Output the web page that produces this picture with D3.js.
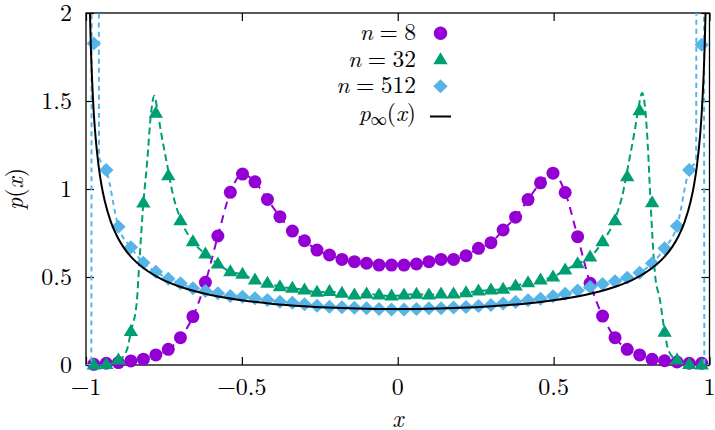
<!DOCTYPE html>
<html><head><meta charset="utf-8">
<script src="https://cdn.jsdelivr.net/npm/d3@7"></script>
<style>
html,body{margin:0;padding:0;background:#fff;}
</style></head><body>
<svg id="chart" width="715" height="430"></svg>
<script>
// ---------------- data ----------------
const xs = [-0.975,-0.935,-0.896,-0.856,-0.816,-0.776,-0.736,-0.697,-0.657,-0.617,-0.577,-0.537,-0.498,-0.458,-0.418,-0.378,-0.338,-0.299,-0.259,-0.219,-0.179,-0.139,-0.100,-0.060,-0.020,
             0.020,0.060,0.100,0.139,0.179,0.219,0.259,0.299,0.338,0.378,0.418,0.458,0.498,0.537,0.577,0.617,0.657,0.697,0.736,0.776,0.816,0.856,0.896,0.935,0.975];
const n8 = [0.004,0.010,0.014,0.023,0.033,0.057,0.089,0.155,0.275,0.470,0.733,0.981,1.085,1.041,0.941,0.843,0.761,0.706,0.653,0.625,0.600,0.587,0.578,0.568,0.568,
            0.568,0.574,0.587,0.600,0.600,0.621,0.663,0.695,0.767,0.840,0.940,1.035,1.090,0.980,0.729,0.464,0.278,0.155,0.089,0.057,0.032,0.024,0.017,0.010,0.010];
const n32 = [0.000,0.003,0.028,0.190,0.920,1.430,1.075,0.820,0.700,0.630,0.574,0.530,0.515,0.483,0.464,0.445,0.436,0.426,0.413,0.417,0.407,0.398,0.403,0.398,0.392,
             0.398,0.402,0.398,0.403,0.403,0.411,0.420,0.426,0.430,0.449,0.468,0.483,0.500,0.540,0.575,0.613,0.700,0.820,1.070,1.445,0.922,0.186,0.028,0.003,0.000];
const n512 = [1.826,1.108,0.786,0.669,0.581,0.530,0.490,0.464,0.436,0.420,0.407,0.392,0.388,0.379,0.369,0.360,0.354,0.345,0.337,0.331,0.328,0.325,0.322,0.318,0.316,
              0.316,0.318,0.322,0.322,0.326,0.330,0.335,0.341,0.350,0.358,0.368,0.377,0.390,0.405,0.424,0.443,0.460,0.476,0.496,0.524,0.578,0.663,0.790,1.108,1.820];

// dashed guide curves
const curve8X = [-1.0,-0.975,-0.935,-0.896,-0.856,-0.816,-0.776,-0.736,-0.697,-0.657,-0.617,-0.577,-0.537,-0.498,-0.458,-0.418,-0.378,-0.338,-0.299,-0.259,-0.219,-0.179,-0.139,-0.100,-0.060,-0.020,
                 0.020,0.060,0.100,0.139,0.179,0.219,0.259,0.299,0.338,0.378,0.418,0.458,0.498,0.537,0.577,0.617,0.657,0.697,0.736,0.776,0.816,0.856,0.896,0.935,0.975,1.0];
const curve8Y = [0.0,0.004,0.010,0.014,0.023,0.033,0.057,0.089,0.155,0.275,0.470,0.733,0.981,1.085,1.041,0.941,0.843,0.761,0.706,0.653,0.625,0.600,0.587,0.578,0.568,0.568,
                 0.568,0.574,0.587,0.600,0.600,0.621,0.663,0.695,0.767,0.840,0.940,1.035,1.090,0.980,0.729,0.464,0.278,0.155,0.089,0.057,0.032,0.024,0.017,0.010,0.010,0.0];
const curve32X = [-1.0,-0.975,-0.935,-0.900,-0.869,-0.856,-0.837,-0.830,-0.816,-0.804,-0.792,-0.781,-0.771,-0.760,-0.741,-0.720,-0.697,-0.657,-0.617,-0.577,-0.537,-0.498,-0.458,-0.418,-0.378,-0.338,-0.299,-0.259,-0.219,-0.179,-0.139,-0.100,-0.060,-0.020,
                  0.020,0.060,0.100,0.139,0.179,0.219,0.259,0.299,0.338,0.378,0.418,0.458,0.498,0.537,0.577,0.617,0.657,0.697,0.720,0.741,0.760,0.773,0.784,0.794,0.802,0.810,0.825,0.841,0.856,0.868,0.900,0.935,0.975,1.0];
const curve32Y = [0.0,0.0,0.003,0.020,0.085,0.190,0.360,0.550,0.920,1.150,1.420,1.530,1.450,1.330,1.150,0.960,0.830,0.700,0.630,0.574,0.530,0.515,0.483,0.464,0.445,0.436,0.426,0.413,0.417,0.407,0.398,0.403,0.398,0.392,
                  0.398,0.402,0.398,0.403,0.403,0.411,0.420,0.426,0.430,0.449,0.468,0.483,0.500,0.540,0.575,0.613,0.700,0.830,0.960,1.150,1.330,1.470,1.545,1.450,1.250,0.956,0.520,0.370,0.190,0.085,0.020,0.003,0.0,0.0];
const curve512X = [-1.0,-0.983,-0.9815,-0.9595,-0.958,-0.935,-0.896,-0.856,-0.816,-0.776,-0.736,-0.697,-0.657,-0.617,-0.577,-0.537,-0.498,-0.458,-0.418,-0.378,-0.338,-0.299,-0.259,-0.219,-0.179,-0.139,-0.100,-0.060,-0.020,
                   0.020,0.060,0.100,0.139,0.179,0.219,0.259,0.299,0.338,0.378,0.418,0.458,0.498,0.537,0.577,0.617,0.657,0.697,0.736,0.776,0.816,0.856,0.896,0.935,0.957,0.9585,0.982,0.9835,1.0];
const curve512Y = [0.0,0.0,2.6,2.6,1.18,1.108,0.786,0.669,0.581,0.530,0.490,0.464,0.436,0.420,0.407,0.392,0.388,0.379,0.369,0.360,0.354,0.345,0.337,0.331,0.328,0.325,0.322,0.318,0.316,
                   0.316,0.318,0.322,0.322,0.326,0.330,0.335,0.341,0.350,0.358,0.368,0.377,0.390,0.405,0.424,0.443,0.460,0.476,0.496,0.524,0.578,0.663,0.790,1.108,1.16,2.6,2.6,0.0,0.0];
// limiting density p_inf(x)
const pinfX = [-0.9975,-0.995,-0.9925,-0.99,-0.985,-0.98,-0.975,-0.97,-0.96,-0.95,-0.94,-0.92,-0.90,-0.88,-0.85,-0.80,-0.75,-0.70,-0.65,-0.60,-0.50,-0.40,-0.30,-0.20,-0.10,0.0,
               0.10,0.20,0.30,0.40,0.50,0.60,0.65,0.70,0.75,0.80,0.85,0.88,0.90,0.92,0.94,0.95,0.96,0.97,0.975,0.98,0.985,0.99,0.9925,0.995,0.9975];
const pinfY = [4.504,3.187,2.604,2.256,1.845,1.600,1.432,1.309,1.137,1.019,0.933,0.812,0.730,0.670,0.604,0.531,0.481,0.446,0.419,0.398,0.368,0.347,0.334,0.325,0.320,0.318,
               0.320,0.325,0.334,0.347,0.368,0.398,0.419,0.446,0.481,0.531,0.604,0.670,0.730,0.812,0.933,1.019,1.137,1.309,1.432,1.600,1.845,2.256,2.604,3.187,4.504];

const xTicks = [-1,-0.5,0,0.5,1];
const xTickLabels = ["\u22121","\u22120.5","0","0.5","1"];
const yTicks = [0,0.5,1,1.5,2];
const yTickLabels = ["0","0.5","1","1.5","2"];

const colors = {n8:"#9400d3", n32:"#009e73", n512:"#56b4e9", pinf:"#000000"};

// ---------------- drawing ----------------
const FONT = "'Latin Modern Roman', 'Liberation Serif', monospace";
const FS = 24;
const svg = d3.select("#chart");
const L=86, R=709.5, T=13, B=365;
const x = d3.scaleLinear().domain([-1,1]).range([L,R]);
const y = d3.scaleLinear().domain([0,2]).range([B,T]);

svg.append("defs").append("clipPath").attr("id","clip")
  .append("rect").attr("x",L).attr("y",T).attr("width",R-L).attr("height",B-T);

// axes with inward ticks on all four sides
const axB = d3.axisBottom(x).tickValues(xTicks).tickSizeInner(-8).tickSizeOuter(0).tickFormat("");
const axT = d3.axisTop(x).tickValues(xTicks).tickSizeInner(-8).tickSizeOuter(0).tickFormat("");
const axL = d3.axisLeft(y).tickValues(yTicks).tickSizeInner(-8).tickSizeOuter(0).tickFormat("");
const axR = d3.axisRight(y).tickValues(yTicks).tickSizeInner(-8).tickSizeOuter(0).tickFormat("");
[[axB,`translate(0,${B})`],[axT,`translate(0,${T})`],[axL,`translate(${L},0)`],[axR,`translate(${R},0)`]].forEach(([a,t])=>{
  const g = svg.append("g").attr("transform",t).call(a);
  g.select(".domain").remove();
  g.selectAll("line").attr("stroke","#000").attr("stroke-width",1.2);
});
svg.append("rect").attr("x",L).attr("y",T).attr("width",R-L).attr("height",B-T)
  .attr("fill","none").attr("stroke","#000").attr("stroke-width",1.3);

function txt(sel, fs){ return sel.attr("font-family",FONT).attr("font-size",fs||FS).attr("fill","#000"); }

// tick labels
txt(svg.append("g").selectAll("text").data(xTicks).join("text"))
  .attr("x",d=>x(d)).attr("y",395).attr("text-anchor","middle")
  .text((d,i)=>xTickLabels[i]);
txt(svg.append("g").selectAll("text").data(yTicks).join("text"))
  .attr("x",72).attr("y",d=>y(d)+7.5).attr("text-anchor","end")
  .text((d,i)=>yTickLabels[i]);

// axis titles
txt(svg.append("text")).attr("x",x(0)).attr("y",427).attr("text-anchor","middle")
  .attr("font-style","italic").text("x");
const yl = txt(svg.append("text")).attr("transform","translate(23,189) rotate(-90)").attr("text-anchor","middle");
yl.append("tspan").attr("font-style","italic").text("p");
yl.append("tspan").text("(");
yl.append("tspan").attr("font-style","italic").text("x");
yl.append("tspan").text(")");

const plot = svg.append("g");
const lineGen = d3.line().x(d=>x(d[0])).y(d=>y(d[1])).curve(d3.curveMonotoneX);

function dashed(X, Y, color, dash){
  plot.append("path").datum(X.map((v,i)=>[v,Y[i]]))
    .attr("clip-path","url(#clip)")
    .attr("d",lineGen).attr("fill","none").attr("stroke",color)
    .attr("stroke-width",2).attr("stroke-dasharray",dash);
}
const circleSym = r=>`M${r},0A${r},${r},0,1,1,${-r},0A${r},${r},0,1,1,${r},0Z`;
const triSym = "M0,-7.5L7.2,4.5L-7.2,4.5Z";
const diaSym = "M0,-7L7.2,0L0,7L-7.2,0Z";
function markers(Y, sym, color){
  plot.append("g").selectAll("path").data(xs.map((v,i)=>[v,Y[i]])).join("path")
    .attr("transform",d=>`translate(${x(d[0])},${y(d[1])})`)
    .attr("d",sym).attr("fill",color);
}

dashed(curve8X, curve8Y, colors.n8, "8,6");
markers(n8, circleSym(6.5), colors.n8);
dashed(curve32X, curve32Y, colors.n32, "7,4");
markers(n32, triSym, colors.n32);
dashed(curve512X, curve512Y, colors.n512, "5,4");
markers(n512, diaSym, colors.n512);
plot.append("path").datum(pinfX.map((v,i)=>[v,pinfY[i]]))
  .attr("clip-path","url(#clip)").attr("d",lineGen)
  .attr("fill","none").attr("stroke",colors.pinf).attr("stroke-width",2);

// legend
const leg = svg.append("g");
const legRows = [
  {label:"8", base:40, sym:circleSym(6.7), color:colors.n8},
  {label:"32", base:66.5, sym:triSym, color:colors.n32},
  {label:"512", base:93, sym:diaSym, color:colors.n512}
];
legRows.forEach(r=>{
  const t = txt(leg.append("text"), 23.5).attr("x",416).attr("y",r.base).attr("text-anchor","end");
  t.append("tspan").attr("font-style","italic").text("n");
  t.append("tspan").attr("dx",6.5).text("=");
  t.append("tspan").attr("dx",6.5).text(r.label);
  leg.append("path").attr("transform",`translate(440.5,${r.base-6.7})`).attr("d",r.sym).attr("fill",r.color);
});
const tp = txt(leg.append("text"), 23.5).attr("x",416).attr("y",121).attr("text-anchor","end");
tp.append("tspan").attr("font-style","italic").text("p");
tp.append("tspan").attr("font-size","16px").attr("dy",4).text("\u221e");
tp.append("tspan").attr("dy",-4).text("(");
tp.append("tspan").attr("font-style","italic").text("x");
tp.append("tspan").text(")");
leg.append("line").attr("x1",430).attr("x2",451).attr("y1",116.5).attr("y2",116.5)
  .attr("stroke","#000").attr("stroke-width",2);
</script>
</body></html>
